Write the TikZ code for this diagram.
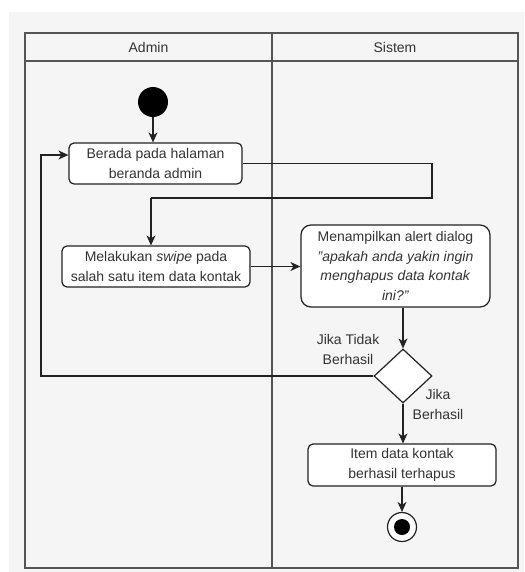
\documentclass[tikz,border=0pt]{standalone}
\usepackage{fontspec}
\setmainfont{Liberation Sans}
\usetikzlibrary{arrows.meta,shapes.geometric,calc}
\definecolor{bgray}{HTML}{F5F5F5}
\definecolor{ink}{HTML}{222222}
\definecolor{txt}{HTML}{333333}
\definecolor{frame}{HTML}{555555}
\tikzset{
  act/.style={draw=ink,fill=white,rounded corners=5pt,line width=1.2pt,align=center,
    text=txt,font=\fontsize{14}{19.5}\selectfont,inner sep=0pt},
  flow/.style={draw=ink,line width=1.2pt,-{Stealth[length=10pt,width=9pt,inset=3pt]}},
  lbl/.style={text=txt,font=\fontsize{14}{20}\selectfont,align=center,inner sep=0pt},
  lane/.style={draw=frame,line width=1.6pt},
}
\begin{document}
\begin{tikzpicture}[x=1pt,y=-1pt]
\useasboundingbox (0,0) rectangle (524,572);
\fill[bgray] (9,12) rectangle (524,572);
% swimlanes
\draw[lane] (25,33) rectangle (518,568);
\draw[lane,line width=1.2pt] (25,61) -- (518,61);
\draw[lane,line width=1.2pt] (272,33) -- (272,568);
\node[lbl] (hAdmin) at (148.5,47) {Admin};
\node[lbl] (hSistem) at (395,47) {Sistem};
% nodes
\node[circle,fill=black,minimum size=30pt,inner sep=0pt] (start) at (153,102) {};
\node[act,minimum width=173pt,minimum height=41pt] (b1) at (155.5,163.5)
  {Berada pada halaman\\beranda admin};
\node[act,minimum width=188pt,minimum height=41pt] (b2) at (156,266.5)
  {Melakukan \textit{swipe} pada\\salah satu item data kontak};
\node[act,minimum width=189pt,minimum height=82pt,rounded corners=10pt] (b3) at (395.5,266)
  {Menampilkan alert dialog\\\textit{"apakah anda yakin ingin}\\\textit{menghapus data kontak}\\\textit{ini?"}};
\node[diamond,draw=ink,fill=white,line width=1.2pt,minimum width=58pt,minimum height=54pt,
  inner sep=0pt,aspect=1.07] (d) at (403,376) {};
\node[act,minimum width=188pt,minimum height=42pt] (b4) at (402,465)
  {Item data kontak\\berhasil terhapus};
\node[circle,draw=ink,fill=white,line width=1.2pt,minimum size=29pt,inner sep=0pt] (end) at (402,527) {};
\node[circle,fill=black,minimum size=16pt,inner sep=0pt] (endin) at (end) {};
% guard labels
\node[lbl] (nofail) at (348,349.5) {Jika Tidak\\Berhasil};
\node[lbl] (ok) at (438,404) {Jika\\Berhasil};
% routing points
\coordinate (r1) at (432,163.5);
\coordinate (r2) at (432,198);
\coordinate (r3) at (151,198);
\coordinate (l1) at (41,376);
\coordinate (l2) at (41,155);
% connectors
\draw[flow] (start.south) -- (start.south |- b1.north);
\draw[draw=ink,line width=1.2pt] (b1.east) -- (r1) -- (r2) -- (r3);
\draw[flow] (r3) -- (r3 |- b2.north);
\draw[flow] (b2.east) -- (b3.west |- b2.east);
\draw[flow] (b3.south -| d.north) -- (d.north);
\draw[flow] (d.west) -- (l1) -- (l2) -- (l2 -| b1.west);
\draw[flow] (d.south) -- (d.south |- b4.north);
\draw[flow] (b4.south -| end.north) -- (end.north);
\end{tikzpicture}
\end{document}
